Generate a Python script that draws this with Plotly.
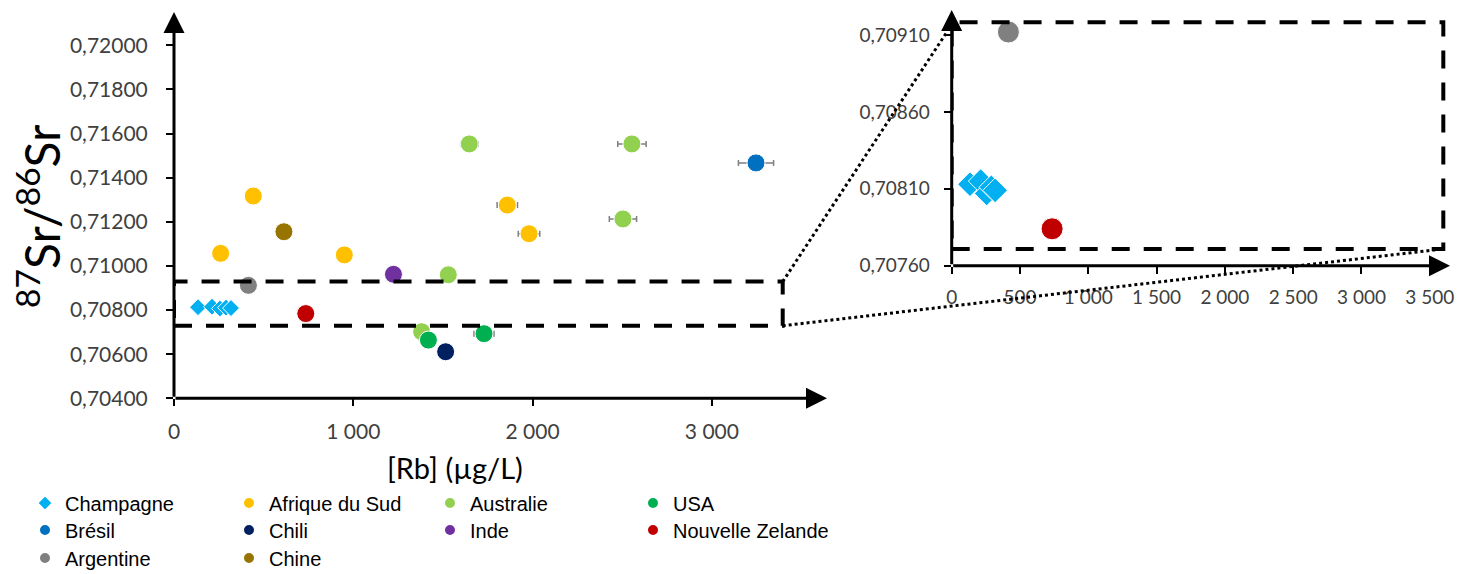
import plotly.graph_objects as go

# ---------------- data ----------------
series_names = ["Champagne", "Afrique du Sud", "Australie", "USA",
                "Brésil", "Chili", "Inde", "Nouvelle Zelande",
                "Argentine", "Chine"]
series_colors = ["#00B0F0", "#FFC000", "#92D050", "#00B050",
                 "#0070C0", "#002060", "#7030A0", "#C00000",
                 "#808080", "#977300"]
series_symbols = ["diamond"] + ["circle"] * 9

champagne_rb = [134, 212, 256, 290, 318]
champagne_sr = [0.70813, 0.70815, 0.70807, 0.70811, 0.70809]
champagne_err = [0, 0, 0, 0, 0]

afrique_rb = [260, 442, 950, 1859, 1980]
afrique_sr = [0.71057, 0.71317, 0.71050, 0.71276, 0.71146]
afrique_err = [15, 15, 20, 57, 60]

australie_rb = [1381, 1530, 1647, 2504, 2554]
australie_sr = [0.70702, 0.70960, 0.71553, 0.71213, 0.71553]
australie_err = [20, 20, 48, 76, 79]

usa_rb = [1419, 1729]
usa_sr = [0.70664, 0.70693]
usa_err = [20, 56]

bresil_rb = [3246]
bresil_sr = [0.71467]
bresil_err = [98]

chili_rb = [1515]
chili_sr = [0.70611]
chili_err = [15]

inde_rb = [1224]
inde_sr = [0.70962]
inde_err = [10]

nz_rb = [735]
nz_sr = [0.70784]
nz_err = [10]

argentine_rb = [415]
argentine_sr = [0.70912]
argentine_err = [10]

chine_rb = [613]
chine_sr = [0.71155]
chine_err = [10]

series_rb = [champagne_rb, afrique_rb, australie_rb, usa_rb, bresil_rb,
             chili_rb, inde_rb, nz_rb, argentine_rb, chine_rb]
series_sr = [champagne_sr, afrique_sr, australie_sr, usa_sr, bresil_sr,
             chili_sr, inde_sr, nz_sr, argentine_sr, chine_sr]
series_err = [champagne_err, afrique_err, australie_err, usa_err, bresil_err,
              chili_err, inde_err, nz_err, argentine_err, chine_err]

main_y_ticks = [0.704, 0.706, 0.708, 0.710, 0.712, 0.714, 0.716, 0.718, 0.720]
main_x_ticks = [0, 1000, 2000, 3000]
inset_y_ticks = [0.7076, 0.7081, 0.7086, 0.7091]
inset_x_ticks = [0, 500, 1000, 1500, 2000, 2500, 3000, 3500]

# zoom windows (dashed rectangles)
main_box_x = [0, 3395]
main_box_y = [0.70729, 0.70929]
inset_box_x = [0, 3599]
inset_box_y = [0.707709, 0.709183]

# ---------------- layout geometry ----------------
# the page body adds an 8px margin, so the figure is 8px smaller and every
# position is taken relative to that offset
OFF = 8
W, H = 1468 - OFF, 574 - OFF


def fx(p):  # window pixel x -> paper fraction
    return (p - OFF) / W


def fy(p):  # window pixel y -> paper fraction
    return 1 - (p - OFF) / H


main_xdom = [fx(174), fx(827)]
main_ydom = [fy(398.3), fy(12)]
main_xrng = [0, 3642]
main_yrng = [0.704, 0.72151]

ins_xdom = [fx(951.7), fx(1450)]
ins_ydom = [fy(265.7), fy(10)]
ins_xrng = [0, 3648]
ins_yrng = [0.7076, 0.709263]

# legend grid (window pixel positions of the symbols)
legend_col_px = [45, 249, 450, 653]
legend_row_px = [503, 530, 558]


def px(v, dom, rng):
    return dom[0] + (v - rng[0]) / (rng[1] - rng[0]) * (dom[1] - dom[0])


fig = go.Figure()

legend_keys = []
for i, name in enumerate(series_names):
    key = "legend" if i == 0 else "legend%d" % (i + 1)
    legend_keys.append(key)
    is_d = series_symbols[i] == "diamond"
    err = dict(type="data", array=series_err[i], color="#7f7f7f",
               thickness=1.5, width=3, visible=any(e > 0 for e in series_err[i]))
    fig.add_trace(go.Scatter(
        x=series_rb[i], y=series_sr[i], mode="markers", name=name,
        marker=dict(symbol=series_symbols[i], color=series_colors[i],
                    size=13 if is_d else 18,
                    line=dict(color="white", width=1)),
        error_x=err, legend=key, xaxis="x", yaxis="y",
        showlegend=True))
for i, name in enumerate(series_names):
    is_d = series_symbols[i] == "diamond"
    fig.add_trace(go.Scatter(
        x=series_rb[i], y=series_sr[i], mode="markers", name=name,
        marker=dict(symbol=series_symbols[i], color=series_colors[i],
                    size=19 if is_d else 22,
                    line=dict(color="white", width=1)),
        xaxis="x2", yaxis="y2", showlegend=False))

tickfont_main = dict(family="Lato, Carlito, sans-serif", size=21, color="#404040")
tickfont_ins = dict(family="Lato, Carlito, sans-serif", size=19, color="#404040")

common = dict(showgrid=False, zeroline=False, showline=False, automargin=False,
              ticks="outside", ticklen=7, tickwidth=1.5, tickcolor="black")
overlay = dict(showticklabels=False, showgrid=False, zeroline=False, showline=False,
               automargin=False, ticks="inside", tickwidth=1.5, tickcolor="black")

layout = dict(
    width=W, height=H, margin=dict(l=0, r=0, t=0, b=0, autoexpand=False),
    paper_bgcolor="white", plot_bgcolor="white",
    separators=", ",
    xaxis=dict(domain=main_xdom, range=main_xrng, anchor="y",
               tickvals=main_x_ticks, tickformat=",d", tickfont=tickfont_main,
               ticklabelstandoff=7, **common),
    yaxis=dict(domain=main_ydom, range=main_yrng, anchor="x",
               tickvals=main_y_ticks, tickformat=".5f", tickfont=tickfont_main,
               ticklabelstandoff=14, **common),
    xaxis2=dict(domain=ins_xdom, range=ins_xrng, anchor="y2",
                tickvals=inset_x_ticks, tickformat=",d", tickfont=tickfont_ins,
                ticklabelstandoff=7, **common),
    yaxis2=dict(domain=ins_ydom, range=ins_yrng, anchor="x2",
                tickvals=inset_y_ticks, tickformat=".5f", tickfont=tickfont_ins,
                ticklabelstandoff=10, **common),
    # overlay axes draw the inner half of the crossing tick marks
    xaxis3=dict(overlaying="x", anchor="y", range=main_xrng, tickvals=main_x_ticks,
                ticklen=8, **overlay),
    yaxis3=dict(overlaying="y", anchor="x", range=main_yrng, tickvals=main_y_ticks,
                ticklen=6, **overlay),
    xaxis4=dict(overlaying="x2", anchor="y2", range=ins_xrng, tickvals=inset_x_ticks,
                ticklen=7, **overlay),
    yaxis4=dict(overlaying="y2", anchor="x2", range=ins_yrng, tickvals=inset_y_ticks,
                ticklen=6, **overlay),
    showlegend=True,
)

legend_font = dict(family="Liberation Sans, Arial, sans-serif", size=20, color="black")
for i, key in enumerate(legend_keys):
    col = i % 4
    row = i // 4
    layout[key] = dict(orientation="v", x=fx(legend_col_px[col] - 20), xanchor="left",
                       y=fy(legend_row_px[row]), yanchor="middle",
                       itemsizing="constant", font=legend_font,
                       bgcolor="rgba(0,0,0,0)", borderwidth=0,
                       itemclick=False, itemdoubleclick=False)
fig.update_layout(**layout)

# axis arrows
arrow_specs = [
    ("x", "y", main_xrng[1], main_yrng[0], main_xrng[0], main_yrng[0]),
    ("x", "y", main_xrng[0], main_yrng[1], main_xrng[0], main_yrng[0]),
    ("x2", "y2", ins_xrng[1], ins_yrng[0], ins_xrng[0], ins_yrng[0]),
    ("x2", "y2", ins_xrng[0], ins_yrng[1], ins_xrng[0], ins_yrng[0]),
]
for xr, yr, x, y, ax, ay in arrow_specs:
    fig.add_annotation(xref=xr, yref=yr, axref=xr, ayref=yr, x=x, y=y, ax=ax, ay=ay,
                       text="", showarrow=True, arrowhead=2, arrowsize=1.4,
                       arrowwidth=3, arrowcolor="black", standoff=0)

# axis titles
fig.add_annotation(xref="paper", yref="paper", x=fx(39), y=fy(216),
                   xanchor="center", yanchor="middle",
                   text="<sup>87</sup>Sr/<sup>86</sup>Sr", textangle=-90,
                   showarrow=False, font=dict(family="Lato, sans-serif", size=48, color="black"))
fig.add_annotation(xref="paper", yref="paper", x=fx(455), y=fy(467),
                   xanchor="center", yanchor="middle",
                   text="[Rb] (µg/L)", showarrow=False,
                   font=dict(family="Lato, sans-serif", size=29, color="black"))

# dashed zoom boxes
dash = "18px,14px"
fig.add_shape(type="rect", xref="x", yref="y", x0=main_box_x[0], x1=main_box_x[1],
              y0=main_box_y[0], y1=main_box_y[1],
              line=dict(color="black", width=4, dash=dash))
fig.add_shape(type="rect", xref="x2", yref="y2", x0=inset_box_x[0], x1=inset_box_x[1],
              y0=inset_box_y[0], y1=inset_box_y[1],
              line=dict(color="black", width=4, dash=dash))

# dotted connectors (main box corners -> inset box corners)
p1 = (px(main_box_x[1], main_xdom, main_xrng), px(main_box_y[1], main_ydom, main_yrng))
q1 = (px(-35, ins_xdom, ins_xrng), px(0.70912, ins_ydom, ins_yrng))
p2 = (px(main_box_x[1], main_xdom, main_xrng), px(main_box_y[0], main_ydom, main_yrng))
q2 = (px(inset_box_x[1], ins_xdom, ins_xrng), px(inset_box_y[0], ins_ydom, ins_yrng))
for a, b in [(p1, q1), (p2, q2)]:
    fig.add_shape(type="line", xref="paper", yref="paper",
                  x0=a[0], y0=a[1], x1=b[0], y1=b[1],
                  line=dict(color="black", width=3, dash="dot"))

fig.write_html("out.html")
